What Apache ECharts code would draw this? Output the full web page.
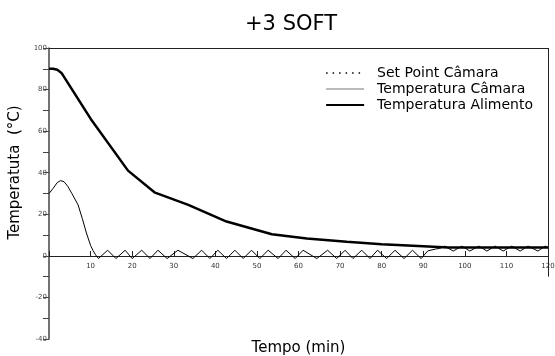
<!DOCTYPE html>
<html lang="pt">
<head>
  <meta charset="UTF-8">
  <title>+3 SOFT</title>
  <style>
    body { margin: 0; background: #fff; }
    #chart { width: 555px; height: 356px; }
  </style>
  <script src="https://cdn.jsdelivr.net/npm/echarts@6/dist/echarts.min.js"></script>
</head>
<body>
<div id="chart"></div>
<script>
  // dados (tempo em min, temperatura em °C)
  var seriesNames = ['Set Point Câmara', 'Temperatura Câmara', 'Temperatura Alimento'];

  var tempoAlimento = [0, 1, 2, 3, 10, 19, 25.5, 33.5, 42.7, 53.6, 62, 71.6, 80, 90, 96, 120];
  var tempAlimento  = [90, 90, 89.5, 88, 66, 41, 30.4, 24.5, 16.5, 10.4, 8.3, 6.8, 5.6, 4.6, 4, 4];

  var tempoCamara = [0, 1, 2, 2.8, 3.6, 4.5, 5.5, 7, 8, 9, 10, 10.6, 11.2, 11.9,
    14.1, 16.1, 18.3, 20, 22.3, 24.3, 26.2, 28.4, 31, 34.6, 36.7, 38.7, 40.6, 42.7,
    44.7, 46.7, 48.7, 50.7, 52.7, 55.1, 57, 59.2, 61.1, 64.4, 67, 69.2, 71.2, 73.1,
    75.2, 77.2, 79, 81.2, 83.2, 85.4, 87.4, 89.5, 91.1, 93, 94, 95.2, 97.2, 99.3,
    101.2, 103.4, 105.3, 107.3, 109.2, 111.3, 113.3, 115.2, 117.6, 119.3, 120];
  var tempCamara = [30, 32.5, 35.3, 36.2, 35.7, 33.5, 30, 24.5, 18, 11, 5, 2.5, 0.5, -1.3,
    2.7, -1.3, 2.7, -1.3, 2.7, -1.3, 2.7, -1.3, 2.7, -1.3, 2.7, -1.3, 2.7, -1.3,
    2.7, -1.3, 2.7, -1.3, 2.7, -1.3, 2.7, -1.3, 2.7, -1.3, 2.7, -1.3, 2.7, -1.3,
    2.7, -1.3, 2.7, -1.3, 2.7, -1.3, 2.7, -1.3, 2.4, 3.3, 3.6, 4.7, 2.3, 4.7,
    2.3, 4.7, 2.3, 4.7, 2.3, 4.7, 2.3, 4.7, 2.3, 4.7, 4];

  var setPoint = [];   // não aparece no traçado, só na legenda

  var yTicks = { min: -40, max: 100, step: 10 };
  var xTicks = { min: 0, max: 120, step: 10 };

  function pares(xs, ys) {
    return xs.map(function (x, i) { return [x, ys[i]]; });
  }

  var chart = echarts.init(document.getElementById('chart'));
  var fonte = 'DejaVu Sans, Verdana, sans-serif';

  var option = {
    animation: false,
    textStyle: { fontFamily: fonte },
    title: {
      text: '+3 SOFT',
      left: 240,
      top: 9,
      textStyle: { fontSize: 21, fontWeight: 'normal', color: '#000', fontFamily: fonte }
    },
    legend: {
      data: [
        { name: seriesNames[0], lineStyle: { color: '#000', width: 1.5, type: [1.5, 5] } },
        { name: seriesNames[1], lineStyle: { color: '#777', width: 1.2 } },
        { name: seriesNames[2], lineStyle: { color: '#000', width: 2.2 } }
      ],
      orient: 'vertical',
      left: 325,
      top: 66,
      padding: 0,
      itemWidth: 38,
      itemHeight: 12,
      itemGap: 2,
      itemStyle: { opacity: 0 },
      textStyle: { fontSize: 14, color: '#000', padding: [0, 0, 0, 8], lineHeight: 14 }
    },
    grid: { left: 49, right: 7, top: 48, bottom: 17, containLabel: false, outerBoundsMode: 'none' },
    xAxis: [{
      type: 'value',
      min: xTicks.min,
      max: xTicks.max,
      interval: xTicks.step,
      position: 'bottom',
      offset: -83,
      name: 'Tempo (min)',
      nameLocation: 'middle',
      nameGap: 85,
      nameTextStyle: { fontSize: 15, color: '#000' },
      axisLine: { onZero: false, lineStyle: { color: '#222', width: 1 } },
      axisTick: { inside: true, length: 5, lineStyle: { color: '#222' } },
      axisLabel: {
        fontSize: 7, color: '#333', margin: 7,
        formatter: function (v) { return v === 0 ? '' : v; }
      },
      splitLine: { show: false }
    }, {
      type: 'value',
      position: 'top',
      min: xTicks.min,
      max: xTicks.max,
      axisLine: { show: true, onZero: false, lineStyle: { color: '#222', width: 1 } },
      axisTick: { show: false },
      axisLabel: { show: false },
      splitLine: { show: false }
    }],
    yAxis: {
      type: 'value',
      min: yTicks.min,
      max: yTicks.max,
      interval: yTicks.step,
      name: 'Temperatuta  (°C)',
      nameLocation: 'middle',
      nameGap: 18,
      nameTextStyle: { fontSize: 15, color: '#000', padding: [0, 0, 0, 42] },
      axisLine: { show: true, onZero: false, lineStyle: { color: '#444', width: 1.5 } },
      axisTick: { show: true, length: 6, lineStyle: { color: '#444' } },
      axisLabel: {
        fontSize: 7, color: '#444', margin: 2,
        formatter: function (v) { return v % 20 === 0 ? v : ''; }
      },
      splitLine: { show: false }
    },
    series: [{
      name: seriesNames[0],
      type: 'line',
      data: setPoint,
      symbol: 'none',
      lineStyle: { type: [1.5, 5], color: '#000', width: 1.5 },
      itemStyle: { color: '#000' }
    }, {
      name: seriesNames[1],
      type: 'line',
      data: pares(tempoCamara, tempCamara),
      symbol: 'none',
      lineStyle: { color: '#000', width: 1 },
      itemStyle: { color: '#666' },
      markLine: {
        silent: true,
        symbol: 'none',
        label: { show: false },
        lineStyle: { color: '#222', type: 'solid', width: 1 },
        data: [[{ coord: [120, 100] }, { coord: [120, -10] }]]
      }
    }, {
      name: seriesNames[2],
      type: 'line',
      data: pares(tempoAlimento, tempAlimento),
      symbol: 'none',
      lineStyle: { color: '#000', width: 2.5 },
      itemStyle: { color: '#000' }
    }]
  };

  chart.setOption(option);
</script>
</body>
</html>
